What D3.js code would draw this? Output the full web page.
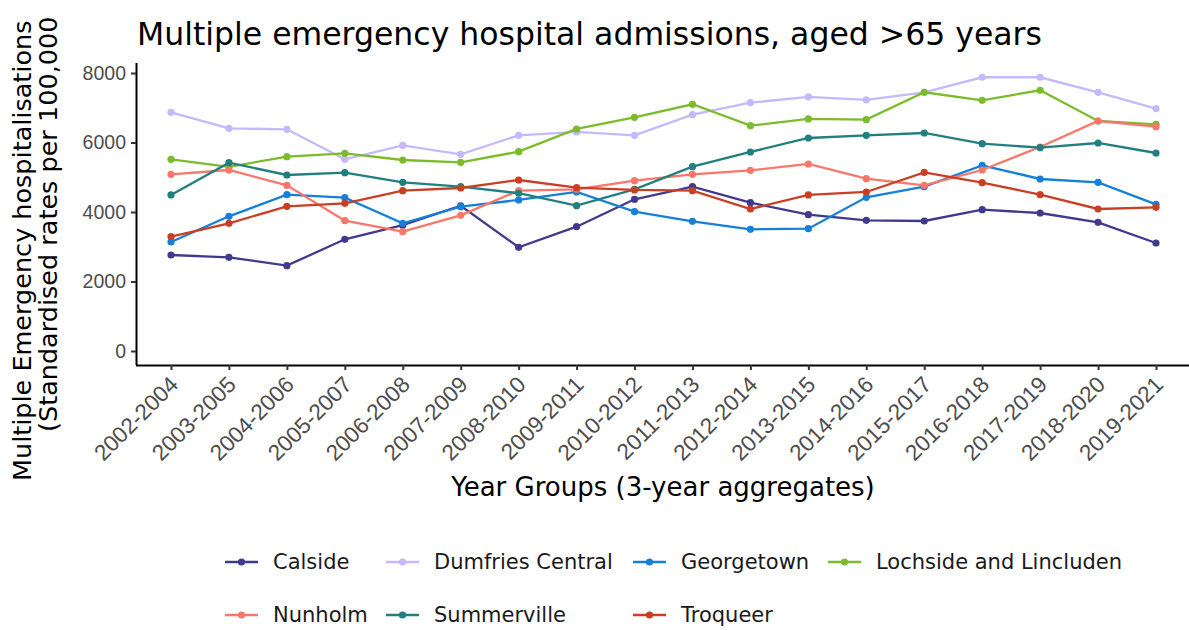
<!DOCTYPE html>
<html><head><meta charset="utf-8">
<script src="https://cdn.jsdelivr.net/npm/d3@7"></script>
<style>body{margin:0;background:#fff;} svg{display:block;font-family:"DejaVu Sans",sans-serif;}</style>
</head><body>
<svg id="chart" width="1189" height="630"></svg>
<script>
const categories = ["2002-2004","2003-2005","2004-2006","2005-2007","2006-2008","2007-2009","2008-2010","2009-2011","2010-2012","2011-2013","2012-2014","2013-2015","2014-2016","2015-2017","2016-2018","2017-2019","2018-2020","2019-2021"];
const seriesNames = ["Calside","Dumfries Central","Georgetown","Lochside and Lincluden","Nunholm","Summerville","Troqueer"];
const colors = ["#413a8c","#c5b9fb","#1680d8","#7cbb2b","#f9766a","#217f80","#c93f24"];
const calside    = [2763,2696,2456,3214,3620,4180,2984,3578,4365,4730,4269,3924,3761,3741,4067,3971,3703,3108];
const dumfries   = [6870,6408,6380,5516,5919,5660,6207,6303,6207,6802,7147,7311,7224,7445,7877,7877,7445,6975];
const georgetown = [3137,3876,4500,4413,3674,4153,4346,4576,4010,3732,3502,3521,4422,4730,5343,4950,4854,4221];
const lochside   = [5516,5300,5593,5689,5497,5430,5737,6389,6725,7100,6485,6677,6658,7445,7214,7503,6619,6524];
const nunholm    = [5085,5209,4768,3751,3434,3905,4614,4653,4902,5085,5199,5382,4960,4768,5209,5871,6619,6456];
const summerville= [4490,5420,5065,5132,4854,4730,4540,4182,4653,5304,5727,6130,6207,6274,5967,5852,5986,5698];
const troqueer   = [3290,3674,4163,4250,4614,4691,4921,4700,4634,4614,4087,4490,4576,5142,4845,4500,4087,4135];
const yTicks = [0,2000,4000,6000,8000];
const seriesValues = [calside,dumfries,georgetown,lochside,nunholm,summerville,troqueer];

const svg = d3.select("#chart");
const pLeft = 136, pRight = 1189, pTop = 63, pBottom = 365;
const x = d3.scalePoint().domain(categories).range([171, 1156]);
const y = d3.scaleLinear().domain([0, 8000]).range([351, 73]);

// title
svg.append("text").attr("x", 137).attr("y", 45).attr("font-size", 31.5).attr("fill", "#000")
  .text("Multiple emergency hospital admissions, aged >65 years");

// axes
const xAxis = svg.append("g").attr("transform", `translate(0,${pBottom})`)
  .call(d3.axisBottom(x).tickSize(5).tickPadding(3));
xAxis.select(".domain").attr("d", `M${pLeft},0.5H${pRight}`).attr("stroke", "#000").attr("stroke-width", 2);
xAxis.selectAll(".tick line").attr("stroke", "#333").attr("stroke-width", 2);
xAxis.selectAll(".tick text").attr("font-size", 22.5).attr("fill", "#4d4d4d")
  .attr("text-anchor", "end").attr("dy", null).attr("y", 0)
  .attr("transform", "translate(8,21) rotate(-45)");

const yAxis = svg.append("g").attr("transform", `translate(${pLeft},0)`)
  .call(d3.axisLeft(y).tickValues(yTicks).tickSize(5).tickPadding(5).tickFormat(d3.format("d")));
yAxis.select(".domain").attr("d", `M0.5,${pTop}V${pBottom}`).attr("stroke", "#000").attr("stroke-width", 2);
yAxis.selectAll(".tick line").attr("stroke", "#333").attr("stroke-width", 2);
yAxis.selectAll(".tick text").attr("font-size", 19.5).attr("fill", "#4d4d4d");

// axis titles
svg.append("text").attr("x", 663).attr("y", 496).attr("text-anchor", "middle").attr("font-size", 26)
  .text("Year Groups (3-year aggregates)");
const yt = svg.append("g").attr("transform", "rotate(-90)");
yt.append("text").attr("x", -481).attr("y", 31).attr("font-size", 25.5).text("Multiple Emergency hospitalisations");
yt.append("text").attr("x", -432).attr("y", 57).attr("font-size", 25.5).text("(Standardised rates per 100,000");

// lines
const line = d3.line().x((d, i) => x(categories[i])).y(d => y(d));
seriesValues.forEach((vals, k) => {
  svg.append("path").datum(vals).attr("d", line).attr("fill", "none")
    .attr("stroke", colors[k]).attr("stroke-width", 2.3);
  svg.append("g").selectAll("circle").data(vals).join("circle")
    .attr("cx", (d, i) => x(categories[i])).attr("cy", d => y(d)).attr("r", 3.6).attr("fill", colors[k]);
});

// legend
const legCols = [225, 386, 633, 828];
const legRows = [562, 615];
seriesNames.forEach((name, k) => {
  const col = k % 4, row = Math.floor(k / 4);
  const g = svg.append("g").attr("transform", `translate(${legCols[col]},${legRows[row]})`);
  g.append("line").attr("x1", 0).attr("x2", 33).attr("y1", 0).attr("y2", 0).attr("stroke", colors[k]).attr("stroke-width", 2.3);
  g.append("circle").attr("cx", 16.5).attr("cy", 0).attr("r", 3.6).attr("fill", colors[k]);
  g.append("text").attr("x", 48).attr("y", 7).attr("font-size", 21).attr("fill", "#1a1a1a").text(name);
});
</script>
</body></html>
